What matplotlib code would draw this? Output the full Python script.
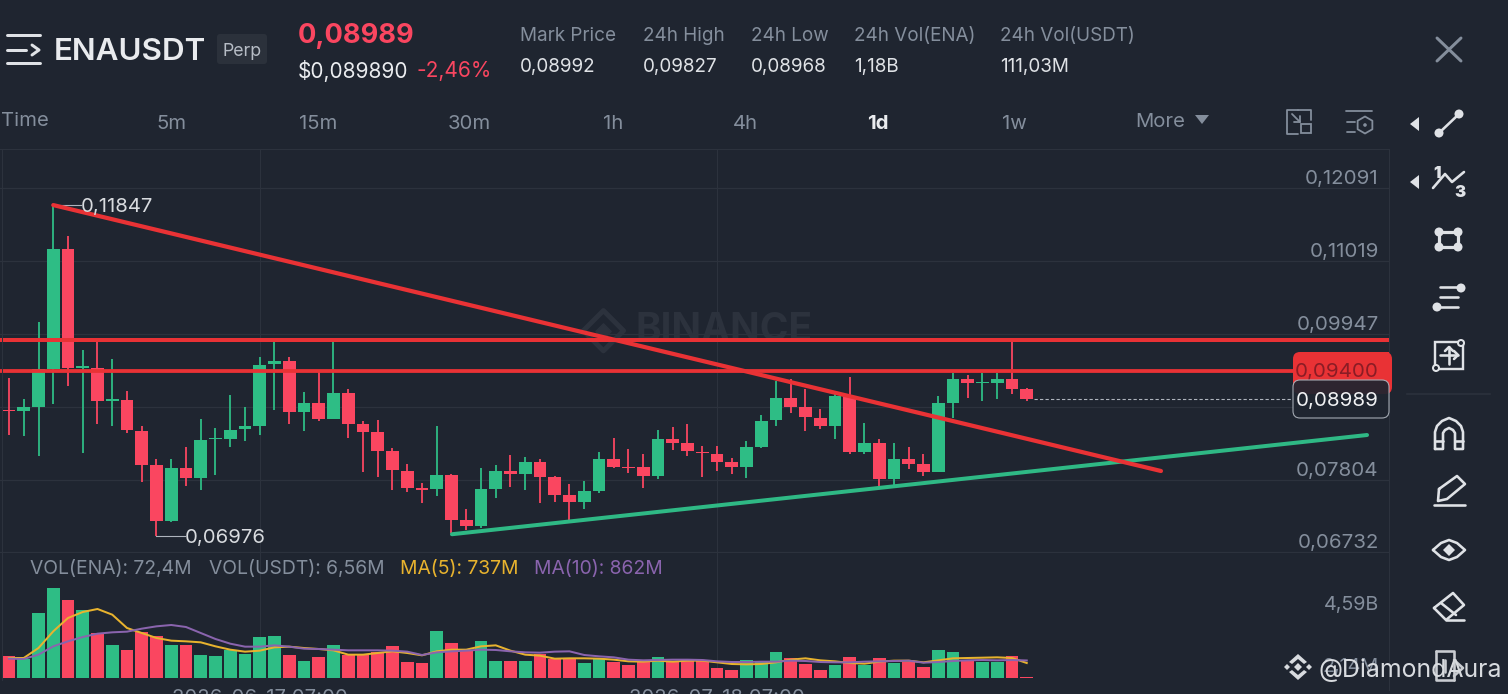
"""ENAUSDT perp daily candles with volume, trend lines and the app's chrome."""

import matplotlib

matplotlib.use("Agg")
import matplotlib.pyplot as plt
from matplotlib.patches import Circle, FancyBboxPatch, Polygon, Rectangle

opens = [0.08829, 0.08814, 0.08873, 0.09433, 0.11200, 0.09448, 0.09443, 0.08962, 0.08977, 0.08525,
         0.08025, 0.07190, 0.07971, 0.07833, 0.08398, 0.08403, 0.08550, 0.08599, 0.09502, 0.09551,
         0.08795, 0.08928, 0.08692, 0.09085, 0.08623, 0.08500, 0.08226, 0.07936, 0.07676, 0.07671,
         0.07872, 0.07205, 0.07126, 0.07666, 0.07931, 0.07882, 0.08059, 0.07843, 0.07578, 0.07470,
         0.07637, 0.08103, 0.07995, 0.07985, 0.07853, 0.08398, 0.08344, 0.08216, 0.08187, 0.08059,
         0.07985, 0.08280, 0.08677, 0.09011, 0.08869, 0.08712, 0.08599, 0.09036, 0.08216, 0.08339,
         0.07809, 0.08103, 0.08030, 0.07921, 0.08937, 0.09281, 0.09232, 0.09232, 0.09281, 0.09134]
closes = [0.08809, 0.08873, 0.09433, 0.11200, 0.09453, 0.09477, 0.08957, 0.08987, 0.08530, 0.08025,
          0.07190, 0.07971, 0.07833, 0.08388, 0.08417, 0.08540, 0.08589, 0.09492, 0.09551, 0.08795,
          0.08928, 0.08692, 0.09085, 0.08628, 0.08500, 0.08226, 0.07941, 0.07686, 0.07656, 0.07872,
          0.07210, 0.07126, 0.07661, 0.07931, 0.07882, 0.08059, 0.07843, 0.07578, 0.07470, 0.07632,
          0.08103, 0.07995, 0.07971, 0.07853, 0.08398, 0.08344, 0.08226, 0.08196, 0.08064, 0.07985,
          0.08280, 0.08667, 0.09011, 0.08873, 0.08721, 0.08599, 0.09036, 0.08216, 0.08339, 0.07814,
          0.08103, 0.08030, 0.07916, 0.08928, 0.09281, 0.09232, 0.09247, 0.09281, 0.09139, 0.08989]
highs = [0.09305, 0.08991, 0.10120, 0.11847, 0.11396, 0.09708, 0.09845, 0.09585, 0.09104, 0.08594,
         0.08103, 0.08103, 0.08290, 0.08692, 0.08560, 0.09050, 0.08878, 0.09610, 0.09826, 0.09610,
         0.09095, 0.09394, 0.09845, 0.09144, 0.08667, 0.08677, 0.08265, 0.08030, 0.07755, 0.08599,
         0.07882, 0.07367, 0.07971, 0.08020, 0.08162, 0.08142, 0.08103, 0.07863, 0.07740, 0.07784,
         0.08211, 0.08412, 0.08255, 0.08182, 0.08535, 0.08574, 0.08628, 0.08304, 0.08295, 0.08123,
         0.08373, 0.08761, 0.09261, 0.09281, 0.09139, 0.08839, 0.09075, 0.09320, 0.08643, 0.08398,
         0.08339, 0.08290, 0.08182, 0.09040, 0.09379, 0.09345, 0.09379, 0.09379, 0.09831, 0.09149]
lows = [0.08461, 0.08452, 0.08147, 0.08918, 0.09188, 0.08201, 0.08628, 0.08599, 0.08496, 0.07774,
        0.06976, 0.07180, 0.07710, 0.07656, 0.07867, 0.08285, 0.08373, 0.08466, 0.08825, 0.08628,
        0.08525, 0.08672, 0.08692, 0.08417, 0.07921, 0.07848, 0.07656, 0.07627, 0.07460, 0.07568,
        0.07014, 0.07062, 0.07087, 0.07539, 0.07700, 0.07652, 0.07455, 0.07470, 0.07210, 0.07372,
        0.07603, 0.07980, 0.07907, 0.07681, 0.07809, 0.08240, 0.08157, 0.07848, 0.07931, 0.07887,
        0.07833, 0.08265, 0.08599, 0.08780, 0.08515, 0.08545, 0.08403, 0.08182, 0.08177, 0.07710,
        0.07725, 0.07956, 0.07863, 0.07921, 0.08707, 0.09011, 0.08962, 0.08987, 0.09065, 0.08962]

# volumes in millions
volumes = [1066, 935, 3198, 4412, 3821, 3346, 2214, 1624, 1378, 2247,
           2083, 1640, 1607, 1132, 1099, 1361, 1164, 2001, 2066, 1132,
           836, 1050, 1624, 1132, 1148, 1263, 1574, 787, 738, 2296,
           1738, 1394, 1804, 853, 836, 820, 1197, 951, 984, 754,
           951, 787, 623, 820, 1050, 820, 836, 853, 508, 394,
           869, 836, 1263, 1000, 689, 377, 623, 1017, 656, 984,
           738, 771, 558, 1394, 1279, 820, 787, 787, 1082, 72]
ma5 = [984, 984, 1476, 2296, 2952, 3247, 3395, 3116, 2460, 2214,
       1968, 1837, 1804, 1755, 1558, 1394, 1296, 1345, 1509, 1542,
       1476, 1427, 1361, 1148, 1148, 1230, 1312, 1230, 1115, 1312,
       1394, 1394, 1558, 1607, 1345, 1148, 1099, 951, 968, 968,
       951, 902, 820, 804, 853, 804, 853, 853, 771, 689,
       672, 689, 771, 902, 968, 869, 820, 738, 705, 804,
       853, 853, 771, 869, 968, 984, 1000, 1017, 984, 737]
ma10 = [951, 935, 1148, 1558, 1804, 2017, 2181, 2247, 2280, 2427,
        2542, 2608, 2509, 2214, 1919, 1689, 1542, 1542, 1607, 1542,
        1443, 1427, 1394, 1361, 1361, 1361, 1345, 1296, 1132, 1263,
        1312, 1345, 1394, 1378, 1312, 1263, 1246, 1296, 1312, 1132,
        1066, 1017, 902, 869, 886, 902, 902, 886, 820, 787,
        787, 804, 804, 853, 836, 787, 771, 771, 804, 820,
        836, 853, 754, 787, 836, 869, 886, 869, 886, 862]

price_ticks = [0.12091, 0.11019, 0.09947, 0.08875, 0.07804, 0.06732]
price_labels = ["0,12091", "0,11019", "0,09947", "", "0,07804", "0,06732"]
date_ticks = [17, 48]
date_labels = ["2026-06-17 07:00", "2026-07-18 07:00"]

resistance = [0.09860, 0.09400]
last_price = 0.08989
peak, trough = 0.11847, 0.06976
down_x, down_y = [3, 78.1], [0.11847, 0.07931]
up_x, up_y = [30.03, 92.07], [0.07000, 0.08461]

tabs = [("5m", 172), ("15m", 318), ("30m", 469), ("1h", 613), ("4h", 745), ("1w", 1014)]
stats = [("Mark Price", "0,08992", 520), ("24h High", "0,09827", 643), ("24h Low", "0,08968", 751),
         ("24h Vol(ENA)", "1,18B", 854), ("24h Vol(USDT)", "111,03M", 1000)]

BG = "#1f2530"
GRID = "#2c323d"
GREEN = "#2ebd85"
RED = "#fa4660"
LINE_RED = "#e93235"
MUTED = "#848e9c"
SOFT = "#d8dbdf"
ICON = "#dfe2e6"
WATERMARK = "#2c323d"
W, H = 1508, 694
PX = 0.72  # one pixel in points at dpi 100
STEP = 14.75  # pixels between candles

plt.rcParams["font.family"] = ["Inter", "DejaVu Sans"]

fig = plt.figure(figsize=(W / 100, H / 100), dpi=100, facecolor=BG)


def px_axes(left, top, right, bottom):
    return fig.add_axes([left / W, 1 - bottom / H, (right - left) / W, (bottom - top) / H], facecolor="none")


def draw_chart():
    # candle i sits at pixel 9 + STEP * i
    xlim = (-9 / STEP, (1389 - 9) / STEP)
    ax = px_axes(0, 150, 1389, 552)
    ax.set_xlim(xlim)
    ax.set_ylim(0.12091 - (552 - 188.5) / 6791, 0.12091 + (188.5 - 150) / 6791)
    vol = px_axes(0, 552, 1389, 678)
    vol.set_xlim(xlim)
    vol.set_ylim(0, 6199)

    for a in (ax, vol):
        for spine in a.spines.values():
            spine.set_visible(False)
        a.tick_params(length=0)
        a.set_yticks([])
        a.set_xticks(date_ticks)
        a.grid(axis="x", color=GRID, lw=1 * PX)
        a.set_axisbelow(True)
    ax.set_xticklabels([])
    vol.set_xticklabels(date_labels, color=MUTED, fontsize=14.6)
    vol.tick_params(axis="x", pad=8)
    vol.axhline(0, color=GRID, lw=1 * PX)

    for p, label in zip(price_ticks, price_labels):
        ax.axhline(p, color=GRID, lw=1.2 * PX, zorder=0)
        if label:
            ax.annotate(label, (1, p), xycoords=("axes fraction", "data"), xytext=(-7.4, 6.5),
                        textcoords="offset points", ha="right", va="center", color=MUTED, fontsize=14.8)

    # watermark behind the candles
    ax.text(42.5, 0.09997, "BINANCE", color=WATERMARK, fontsize=28, fontweight="bold", ha="left", va="center", zorder=1)
    ax.scatter([40.3], [0.09997], marker="D", s=420, facecolor="none", edgecolor=WATERMARK, lw=5 * PX, zorder=1)
    ax.scatter([40.3], [0.09997], marker="D", s=60, color=WATERMARK, zorder=1)

    x = list(range(len(opens)))
    colors = [GREEN if c >= o else RED for o, c in zip(opens, closes)]
    ax.vlines(x, lows, highs, colors=colors, lw=1.8 * PX, zorder=3)
    bottoms = [min(o, c) for o, c in zip(opens, closes)]
    heights = [max(abs(c - o), 0.00012) for o, c in zip(opens, closes)]
    ax.bar(x, heights, bottom=bottoms, width=0.88, color=colors, zorder=4)

    ax.plot(down_x, down_y, color=LINE_RED, lw=4.2 * PX, solid_capstyle="round", zorder=6)
    ax.plot(up_x, up_y, color="#2fb985", lw=4 * PX, solid_capstyle="round", zorder=5)
    ax.axhline(resistance[0], color=LINE_RED, lw=4 * PX, zorder=6)
    ax.plot([xlim[0], 87.05], [resistance[1]] * 2, color=LINE_RED, lw=3.8 * PX, zorder=6)
    ax.plot([69.5, 87.05], [last_price] * 2, color="#aeb4bd", lw=1.1 * PX, ls=(0, (3, 2)), zorder=5)

    # high and low markers: a thin leader and the value at its end
    ax.plot([3, 4.88], [peak, peak], color="#aeb4bd", lw=1.1 * PX, zorder=5)
    ax.plot([10, 11.93], [trough, trough], color="#aeb4bd", lw=1.1 * PX, zorder=5)
    ax.annotate("0,11847", (4.88, peak), xytext=(0, -1.4), textcoords="offset points",
                color=SOFT, fontsize=14.6, va="center", ha="left", zorder=7)
    ax.annotate("0,06976", (11.93, trough), xytext=(0, -1.4), textcoords="offset points",
                color=SOFT, fontsize=14.6, va="center", ha="left", zorder=7)

    vol.bar(x, volumes, width=0.88, color=colors, zorder=3)
    vol.plot(x, ma5, color="#e8b32e", lw=2 * PX, zorder=4)
    vol.plot(x, ma10, color="#8a64ae", lw=2 * PX, zorder=5)
    vol.annotate("4,59B", (1, 4590), xycoords=("axes fraction", "data"), xytext=(-7.4, -14.5),
                 textcoords="offset points", ha="right", va="center", color=MUTED, fontsize=14.2)
    vol.annotate("2,14M", (1, 0), xycoords=("axes fraction", "data"), xytext=(-7.4, 7.6),
                 textcoords="offset points", ha="right", va="center", color=MUTED, fontsize=14.2)


def poly(ov, xs, ys, lw=2.6, color=ICON, **kw):
    ov.plot(xs, ys, color=color, lw=lw * PX, solid_capstyle="round", solid_joinstyle="round", **kw)


def dot(ov, x, y, r=4.5, color=ICON):
    ov.add_patch(Circle((x, y), r, facecolor=color, edgecolor="none"))


def draw_header(ov):
    for y in (35, 63):
        poly(ov, [7, 40], [y, y], lw=3)
    poly(ov, [7, 26], [50, 50], lw=3)
    poly(ov, [32, 39, 32], [45, 50, 55], lw=3)
    ov.text(54, 52, "ENAUSDT", color="#e9ebee", fontsize=22.6, fontweight="semibold", va="center")
    ov.add_patch(FancyBboxPatch((219, 36), 46, 26, boxstyle="round,pad=2,rounding_size=3", facecolor="#2b313b", edgecolor="none"))
    ov.text(242, 51, "Perp", color="#b7bdc6", fontsize=12.8, ha="center", va="center")
    ov.text(298, 36, "0,08989", color=RED, fontsize=19.6, fontweight="bold", va="center")
    ov.text(298, 71, "$0,089890", color="#eaecef", fontsize=15, va="center")
    ov.text(417, 71, "-2,46%", color=RED, fontsize=15, va="center")
    for label, value, x in stats:
        ov.text(x, 36, label, color=MUTED, fontsize=13.6, va="center")
        ov.text(x, 67, value, color="#dfe2e6", fontsize=13.6, va="center")
    poly(ov, [1437, 1461], [38, 61], lw=3, color=MUTED)
    poly(ov, [1437, 1461], [61, 38], lw=3, color=MUTED)

    ov.text(1, 121, "Time", color=MUTED, fontsize=14.6, va="center")
    for label, x in tabs:
        ov.text(x, 124, label, color=MUTED, fontsize=14.6, ha="center", va="center")
    ov.text(878, 124, "1d", color="#eaecef", fontsize=14.6, fontweight="bold", ha="center", va="center")
    ov.text(1135, 122, "More", color=MUTED, fontsize=14.6, va="center")
    ov.add_patch(Polygon([(1195, 115), (1209, 115), (1202, 124)], facecolor=MUTED, edgecolor="none"))

    # the two small toolbar icons next to More
    poly(ov, [1298, 1287, 1287, 1298], [134, 134, 110, 110], lw=1.8, color=MUTED)
    poly(ov, [1298, 1311, 1311], [110, 110, 120], lw=1.8, color=MUTED)
    ov.add_patch(Rectangle((1301, 124), 10, 9, facecolor=BG, edgecolor=MUTED, lw=1.8 * PX, zorder=3))
    poly(ov, [1292, 1300], [114, 122], lw=1.8, color=MUTED)
    poly(ov, [1294, 1300, 1300], [122, 122, 116], lw=1.8, color=MUTED)
    poly(ov, [1346, 1372], [111, 111], lw=1.8, color=MUTED)
    poly(ov, [1347, 1355], [122, 122], lw=1.8, color=MUTED)
    poly(ov, [1347, 1355], [132, 132], lw=1.8, color=MUTED)
    ov.scatter([1365], [125], marker="h", s=150, facecolor="none", edgecolor=MUTED, lw=1.8 * PX)
    dot(ov, 1365, 125, 1.8, MUTED)


def draw_price_tags(ov):
    ov.add_patch(FancyBboxPatch((1296, 355), 93, 36, boxstyle="round,pad=3,rounding_size=7", facecolor=LINE_RED,
                                edgecolor="none", clip_on=False, zorder=2))
    ov.add_patch(Rectangle((1380, 352), 9, 39, facecolor=LINE_RED, edgecolor="none", zorder=2))
    ov.text(1379, 372, "0,09400", color="#8a1c25", fontsize=14.8, ha="right", va="center", zorder=3)
    ov.add_patch(FancyBboxPatch((1296, 383), 90, 32, boxstyle="round,pad=3,rounding_size=7", facecolor="#1f2530",
                                alpha=0.93, edgecolor="#aeb4bd", lw=1.1 * PX, zorder=4))
    ov.text(1379, 401, "0,08989", color="#f0f1f3", fontsize=14.8, ha="right", va="center", zorder=5)


def draw_tools(ov):
    for y in (124, 182):
        ov.add_patch(Polygon([(1419, y - 7), (1419, y + 7), (1410, y)], facecolor=ICON, edgecolor="none"))
    poly(ov, [1439, 1459], [133, 114])
    dot(ov, 1439, 133)
    dot(ov, 1459, 114)
    poly(ov, [1433, 1445, 1452, 1464], [188, 174, 182, 172])
    ov.text(1437, 173, "1", color=ICON, fontsize=12, fontweight="black", ha="center", va="center")
    ov.text(1460, 192, "3", color=ICON, fontsize=12, fontweight="black", ha="center", va="center")
    poly(ov, [1439, 1458, 1458, 1439, 1439], [232, 232, 247, 247, 232], lw=3.2)
    for x, y in ((1439, 232), (1458, 232), (1439, 247), (1458, 247)):
        dot(ov, x, y)
    poly(ov, [1440, 1458], [287, 287])
    poly(ov, [1440, 1458], [297, 297])
    poly(ov, [1438, 1458], [307, 307])
    dot(ov, 1461, 288)
    dot(ov, 1437, 307)
    ov.add_patch(Rectangle((1435, 342), 28, 27, facecolor="none", edgecolor=ICON, lw=2.4 * PX))
    poly(ov, [1449, 1449], [347, 364])
    poly(ov, [1440, 1458], [355, 355])
    poly(ov, [1445, 1449, 1453], [351, 347, 351])
    poly(ov, [1454, 1458, 1454], [351, 355, 359])
    ov.add_patch(Circle((1461, 343), 3, facecolor=BG, edgecolor=ICON, lw=2 * PX, zorder=3))
    ov.add_patch(Circle((1436, 368), 3, facecolor=BG, edgecolor=ICON, lw=2 * PX, zorder=3))
    ov.plot([1407, 1490], [394, 394], color=GRID, lw=1.6 * PX)

    # magnet
    poly(ov, [1435, 1435, 1437, 1442, 1449, 1456, 1461, 1463, 1463, 1455, 1455, 1453, 1449, 1445, 1443, 1443, 1435],
         [449, 432, 426, 421, 418, 421, 426, 432, 449, 449, 433, 430, 428, 430, 433, 449, 449])
    poly(ov, [1435, 1443], [441, 441])
    poly(ov, [1455, 1463], [441, 441])
    # pencil
    poly(ov, [1439, 1457, 1465, 1447, 1438, 1439], [489, 476, 484, 499, 501, 489])
    poly(ov, [1434, 1465], [505, 505])
    # eye
    poly(ov, [1433, 1441, 1449, 1457, 1465, 1457, 1449, 1441, 1433],
         [550, 543, 540, 543, 550, 557, 560, 557, 550])
    ov.add_patch(Polygon([(1449, 544), (1455, 550), (1449, 556), (1443, 550)], facecolor=ICON, edgecolor="none"))
    # eraser
    poly(ov, [1434, 1453, 1464, 1446, 1434], [608, 593, 605, 620, 608])
    poly(ov, [1441, 1456], [603, 615])
    poly(ov, [1446, 1464], [620, 620])
    # last tool, half hidden by the watermark
    poly(ov, [1436, 1454, 1454], [651, 651, 680], color="#c9ccd1")
    poly(ov, [1436, 1436, 1454], [651, 680, 680], color="#c9ccd1")
    poly(ov, [1445, 1445], [660, 672], color="#c9ccd1")
    poly(ov, [1454, 1463, 1454], [660, 668, 676], color="#c9ccd1")


def draw_repost_mark(ov):
    # little diamond logo of the repost watermark, on top of everything
    for cx, cy, r in ((1298, 667, 4), (1287, 667, 3), (1309, 667, 3)):
        ov.add_patch(Polygon([(cx, cy - r), (cx + r, cy), (cx, cy + r), (cx - r, cy)], facecolor=SOFT, edgecolor="none", zorder=9))
    ov.add_patch(Polygon([(1298, 654), (1307, 662), (1304, 664), (1298, 659), (1292, 664), (1289, 662)],
                         facecolor=SOFT, edgecolor="none", zorder=9))
    ov.add_patch(Polygon([(1298, 680), (1307, 672), (1304, 670), (1298, 675), (1292, 670), (1289, 672)],
                         facecolor=SOFT, edgecolor="none", zorder=9))
    ov.text(1318, 670, "@DiamondAura", color=SOFT, fontsize=17.9, va="center", zorder=10)


def draw_overlay():
    ov = px_axes(0, 0, W, H)
    ov.set_xlim(0, W)
    ov.set_ylim(H, 0)
    ov.axis("off")

    ov.plot([0, 1389], [149, 149], color=GRID, lw=1 * PX)
    ov.plot([1389, 1389], [150, 690], color=GRID, lw=1 * PX)
    ov.plot([2, 2], [150, 680], color=GRID, lw=1 * PX)
    ov.plot([0, 1389], [552, 552], color=GRID, lw=1 * PX)

    ov.text(30, 569, "VOL(ENA): 72,4M", color=MUTED, fontsize=13.9, va="center")
    ov.text(209, 569, "VOL(USDT): 6,56M", color=MUTED, fontsize=13.9, va="center")
    ov.text(400, 569, "MA(5): 737M", color="#e8b32e", fontsize=13.9, va="center")
    ov.text(534, 569, "MA(10): 862M", color="#8a64ae", fontsize=13.9, va="center")

    draw_header(ov)
    draw_price_tags(ov)
    draw_tools(ov)
    draw_repost_mark(ov)


draw_chart()
draw_overlay()
fig.savefig("out.png", dpi=100, facecolor=BG)
